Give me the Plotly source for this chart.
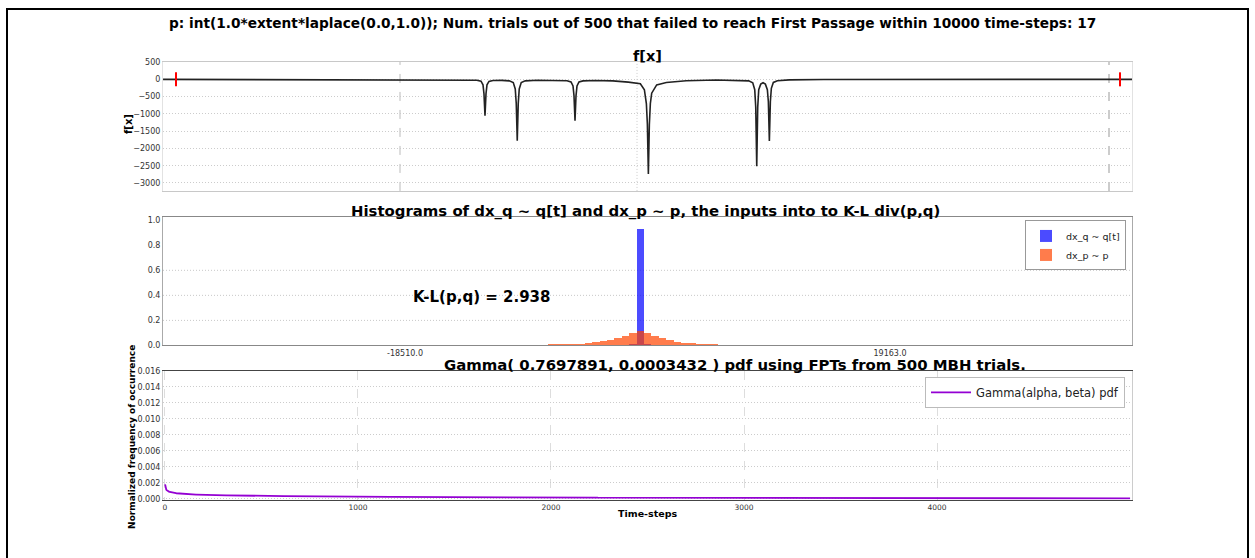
import math
import numpy as np
import plotly.graph_objects as go

# ---------------- data ----------------
# f[x]: potential profile (x in lattice units, value)
fx_x = [-31100, -16000,
        -15050, -14420, -14206, -14100, -14047, -13994, -13941, -13888, -13782, -13570, -13100,
        -12705, -12492, -12386, -12333, -12280, -12227, -12174, -12068, -11855, -11220, -10500,
        -10270, -9636, -9423, -9317, -9264, -9211, -9158, -9105, -8999, -8786, -8150, -7200,
        -6380, -5738, -5525, -5419, -5366, -5313, -5260, -5207, -5136, -4872, -4360, -3300, -1700, -600,
        20, 233, 339, 392, 445, 498, 551, 657, 780,
        904, 1010, 1063, 1116, 1169, 1222, 1328, 1541, 2176, 4000, 20400]
fx_y = [0, -5,
        -8, -25, -55, -160, -420, -1050, -420, -160, -60, -35, -30,
        -45, -95, -280, -700, -1780, -700, -280, -95, -45, -25, -25,
        -28, -40, -75, -190, -480, -1200, -480, -190, -75, -45, -35, -45,
        -80, -130, -300, -700, -1300, -2736, -1300, -700, -400, -160, -94, -40, -20, -25,
        -45, -100, -300, -800, -2518, -800, -300, -140, -100,
        -140, -300, -650, -1783, -650, -260, -90, -40, -15, -5, 0]
# start / end positions marked on f[x]
marker_x = [-30412, 19747]
marker_y = [0, 0]
# reference lines on the f[x] panel
fx_vlines = [-18510, -5917, 19163]

# histograms of dx_q ~ q[t] and dx_p ~ p
bin_centers = [-7129, -6554, -5979, -5404, -4829, -4254, -3679, -3104, -2529, -1954, -1379, -804,
               -229, 346, 921, 1496, 2071, 2646, 3221, 3796, 4371, 4946, 5521, 6096, 6671]
bin_width = 575
hist_q = [0, 0, 0, 0, 0, 0, 0, 0, 0, 0, 0, 0.013,
          0.935, 0.013, 0, 0, 0, 0, 0, 0, 0, 0, 0, 0, 0]
hist_p = [0.010, 0.012, 0.014, 0.016, 0.018, 0.022, 0.028, 0.036, 0.048, 0.062, 0.080, 0.100,
          0.120, 0.106, 0.082, 0.062, 0.046, 0.034, 0.026, 0.020, 0.015, 0.011, 0.008, 0.006, 0.004]
hist_ticks = [-18510, 19163]
hist_ticktext = ["-18510.0", "19163.0"]
kl_value = 2.938

# Gamma fit of first-passage times
gamma_alpha = 0.7697891
gamma_beta = 0.0003432
n_trials = 500
n_failed = 17
max_steps = 10000
t_max = 5000

# ---------------- derived curve ----------------
t = np.linspace(1, t_max, 2500)
gamma_pdf = np.exp(gamma_alpha * np.log(gamma_beta) + (gamma_alpha - 1) * np.log(t)
                   - gamma_beta * t - math.lgamma(gamma_alpha))

FONT = "DejaVu Sans"
W, H = 1255, 558
X0, X1 = 163 / W, 1132 / W
DOTS = "1px,2px"


def ydom(top_px, bot_px):
    return [1 - bot_px / H, 1 - top_px / H]


fig = go.Figure()

# f[x]
fig.add_trace(go.Scatter(x=fx_x, y=fx_y, mode="lines", line=dict(color="#222222", width=1.6),
                         xaxis="x", yaxis="y", showlegend=False, hoverinfo="skip"))
fig.add_trace(go.Scatter(x=marker_x, y=marker_y, mode="markers",
                         marker=dict(symbol="line-ns", size=10, line=dict(color="red", width=2)),
                         xaxis="x", yaxis="y", showlegend=False))

# histograms
fig.add_trace(go.Bar(x=bin_centers, y=hist_q, width=bin_width, name="dx_q ~ q[t]",
                     marker=dict(color="blue", line=dict(width=0)), opacity=0.7,
                     xaxis="x2", yaxis="y2", legend="legend"))
fig.add_trace(go.Bar(x=bin_centers, y=hist_p, width=bin_width, name="dx_p ~ p",
                     marker=dict(color="orangered", line=dict(width=0)), opacity=0.7,
                     xaxis="x2", yaxis="y2", legend="legend"))

# gamma pdf
fig.add_trace(go.Scatter(x=t, y=gamma_pdf, mode="lines", name="Gamma(alpha, beta) pdf",
                         line=dict(color="#9400d3", width=1.8),
                         xaxis="x3", yaxis="y3", legend="legend2"))

tickfont = dict(family=FONT, size=8, color="#333333")

shapes = [
    # outer frame
    dict(type="rect", xref="paper", yref="paper", x0=7 / W, x1=1248 / W, y0=-0.05, y1=1 - 5 / H,
         line=dict(color="black", width=2), layer="above"),
]
for xv, dash, col, wd in zip(fx_vlines, ["dash", DOTS, "dash"], ["#bbbbbb", "#cccccc", "#cccccc"], [1, 1, 2]):
    shapes.append(dict(type="line", xref="x", yref="y domain", x0=xv, x1=xv, y0=0, y1=1,
                       line=dict(color=col, width=wd, dash=dash), layer="below"))
for yv in [0.2, 0.4, 0.6]:
    shapes.append(dict(type="line", xref="x2 domain", yref="y2", x0=0, x1=1, y0=yv, y1=yv,
                       line=dict(color="#c8c8c8", width=1, dash=DOTS), layer="below"))

annotations = [
    dict(text="<b>p: int(1.0*extent*laplace(0.0,1.0)); Num. trials out of %d that failed to reach "
              "First Passage within %d time-steps: %d</b>" % (n_trials, max_steps, n_failed),
         xref="paper", yref="paper", x=632 / W, y=1 - 19 / H, showarrow=False,
         font=dict(family=FONT, size=13.7, color="black"), xanchor="center", yanchor="middle"),
    dict(text="<b>f[x]</b>", xref="paper", yref="paper", x=647 / W, y=1 - 53 / H, showarrow=False,
         font=dict(family=FONT, size=14.5, color="black"), xanchor="center", yanchor="middle"),
    dict(text="<b>f[x]</b>", xref="paper", yref="paper", x=128 / W, y=1 - 122 / H, showarrow=False,
         textangle=-90, font=dict(family=FONT, size=10, color="black"), xanchor="center", yanchor="middle"),
    dict(text="<b>Histograms of dx_q ~ q[t] and dx_p ~ p, the inputs into to K-L div(p,q)</b>",
         xref="paper", yref="paper", x=645 / W, y=1 - 210 / H, showarrow=False,
         font=dict(family=FONT, size=14.9, color="black"), xanchor="center", yanchor="middle"),
    dict(text="<b>K-L(p,q) = %.3f</b>" % kl_value, xref="paper", yref="paper", x=481 / W, y=1 - 298 / H,
         showarrow=False, font=dict(family=FONT, size=15, color="black"), xanchor="center", yanchor="middle"),
    dict(text="<b>Gamma( %.7f, %.7f ) pdf using FPTs from %d MBH trials.</b>" % (gamma_alpha, gamma_beta, n_trials),
         xref="paper", yref="paper", x=735 / W, y=1 - 367 / H, showarrow=False,
         font=dict(family=FONT, size=14.9, color="black"), xanchor="center", yanchor="middle"),
    dict(text="<b>Normalized frequency of occurrence</b>", xref="paper", yref="paper", x=132 / W, y=1 - 440 / H,
         showarrow=False, textangle=-90, font=dict(family=FONT, size=9, color="black"),
         xanchor="center", yanchor="middle"),
    dict(text="<b>Time-steps</b>", xref="paper", yref="paper", x=647 / W, y=1 - 518 / H, showarrow=False,
         font=dict(family=FONT, size=9.5, color="black"), xanchor="center", yanchor="middle"),
]

fig.update_layout(
    width=W, height=H, margin=dict(l=0, r=0, t=0, b=0),
    paper_bgcolor="white", plot_bgcolor="white",
    font=dict(family=FONT, color="#333333"),
    barmode="overlay", bargap=0,
    xaxis=dict(domain=[X0, X1], anchor="y", range=[-31103, 20385], showticklabels=False, ticks="",
               showgrid=False, zeroline=False, showline=True, mirror=True, linecolor="#c8c8c8"),
    yaxis=dict(domain=ydom(59, 190), anchor="x", range=[-3230, 500], tickvals=list(range(-3000, 501, 500)),
               tickfont=tickfont, showgrid=True, gridcolor="#cccccc", griddash=DOTS, zeroline=False,
               showline=True, mirror=True, linecolor="#e2e2e2", ticks=""),
    xaxis2=dict(domain=[X0, X1], anchor="y2", range=[-37308, 37961], tickvals=hist_ticks,
                ticktext=hist_ticktext, tickfont=tickfont, showgrid=False, zeroline=False,
                showline=True, mirror=True, linecolor="#888888", ticks=""),
    yaxis2=dict(domain=ydom(216, 347), anchor="x2", range=[0, 1.03],
                tickvals=[0, 0.2, 0.4, 0.6, 0.8, 1.0], ticktext=["0.0", "0.2", "0.4", "0.6", "0.8", "1.0"],
                tickfont=tickfont, showgrid=False, zeroline=False, showline=True, mirror=True,
                linecolor="#aaaaaa", ticks=""),
    xaxis3=dict(domain=[X0, X1], anchor="y3", range=[-10, 5010], tickvals=[0, 1000, 2000, 3000, 4000],
                tickfont=dict(family=FONT, size=7.5, color="#333333"), showgrid=True, gridcolor="#dddddd",
                griddash="dash", zeroline=False, showline=True, mirror=True, linecolor="#444444", ticks=""),
    yaxis3=dict(domain=ydom(373, 504), anchor="x3", range=[-0.00014, 0.016],
                tickvals=[0, 0.002, 0.004, 0.006, 0.008, 0.010, 0.012, 0.014, 0.016], tickformat=".3f",
                tickfont=tickfont, showgrid=True, gridcolor="#cccccc", griddash=DOTS, zeroline=False,
                showline=True, mirror=True, linecolor="#cccccc", ticks=""),
    legend=dict(x=1126 / W, y=1 - 220 / H, xanchor="right", yanchor="top", bgcolor="white",
                bordercolor="#999999", borderwidth=1, font=dict(family=FONT, size=9.5, color="#222222"),
                itemwidth=30, tracegroupgap=0),
    legend2=dict(x=1125 / W, y=1 - 379 / H, xanchor="right", yanchor="top", bgcolor="white",
                 bordercolor="#bbbbbb", borderwidth=1, font=dict(family=FONT, size=11.5, color="#222222"),
                 itemwidth=40),
    shapes=shapes,
    annotations=annotations,
)

fig.write_html("out.html")
